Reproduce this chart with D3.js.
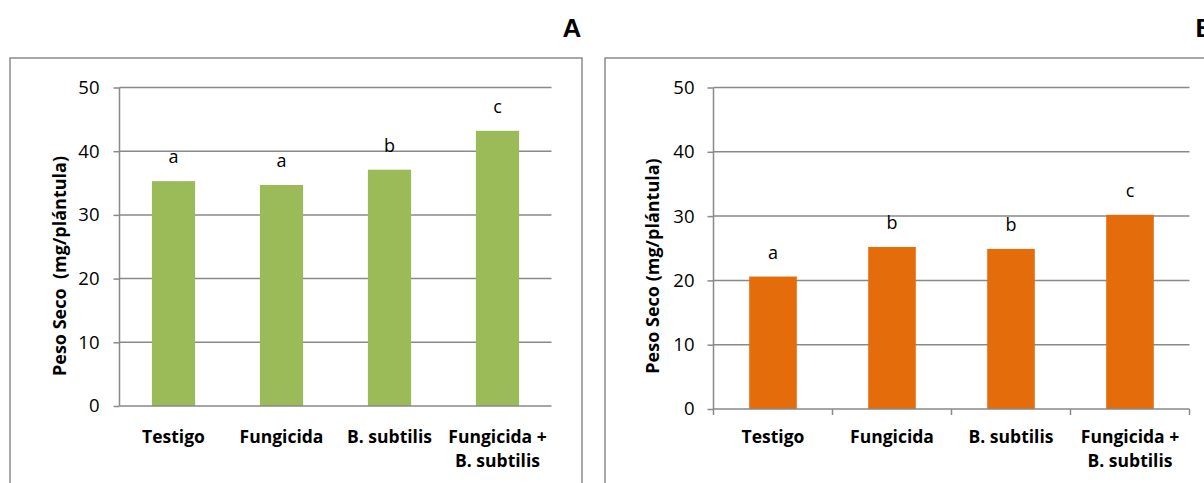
<!DOCTYPE html>
<html>
<head>
<meta charset="utf-8">
<script src="https://cdn.jsdelivr.net/npm/d3@7"></script>
<style>
  body { margin: 0; background: #fff; }
  svg { display: block; font-family: "Open Sans", "DejaVu Sans", sans-serif; }
</style>
</head>
<body>
<div id="chart"></div>
<script>
// data
var categories = ["Testigo", "Fungicida", "B. subtilis", "Fungicida + B. subtilis"];
var catLines = [["Testigo"], ["Fungicida"], ["B. subtilis"], ["Fungicida +", "B. subtilis"]];
var valuesA = [35.3, 34.7, 37.1, 43.2];
var lettersA = ["a", "a", "b", "c"];
var valuesB = [20.6, 25.2, 24.9, 30.2];
var lettersB = ["a", "b", "b", "c"];
var yTicks = [0, 10, 20, 30, 40, 50];

var width = 1204, height = 483;
var gridColor = "#898989";

var svg = d3.select("#chart").append("svg")
  .attr("width", width)
  .attr("height", height);

function drawPanel(cfg) {
  // outer frame of the chart object
  svg.append("rect")
    .attr("x", cfg.frame[0]).attr("y", cfg.frame[1])
    .attr("width", cfg.frame[2]).attr("height", cfg.frame[3])
    .attr("fill", "none")
    .attr("stroke", "#8c8c8c")
    .attr("stroke-width", 1.5);

  svg.append("text")
    .attr("x", cfg.tagX).attr("y", 37)
    .attr("text-anchor", "middle")
    .style("font-size", "26px")
    .style("font-weight", "bold")
    .style("font-family", "'Liberation Sans', Arial, sans-serif")
    .text(cfg.tag);

  var x = d3.scaleBand()
    .domain(categories)
    .range([cfg.x0, cfg.x1])
    .paddingInner(0.6)
    .paddingOuter(0.3);

  var y = d3.scaleLinear()
    .domain([0, 50])
    .range([cfg.y0, cfg.y1]);

  var g = svg.append("g");

  // gridlines
  g.selectAll("line.grid")
    .data(yTicks.filter(function(d) { return d > 0; }))
    .enter().append("line")
    .attr("class", "grid")
    .attr("x1", cfg.x0).attr("x2", cfg.x1)
    .attr("y1", function(d) { return y(d); })
    .attr("y2", function(d) { return y(d); })
    .attr("stroke", gridColor)
    .attr("stroke-width", 1.5);

  // bars
  g.selectAll("rect.bar")
    .data(cfg.values)
    .enter().append("rect")
    .attr("class", "bar")
    .attr("x", function(d, i) { return x(categories[i]); })
    .attr("width", x.bandwidth())
    .attr("y", function(d) { return y(d); })
    .attr("height", function(d) { return y(0) - y(d); })
    .attr("fill", cfg.color);

  // significance letters
  g.selectAll("text.letter")
    .data(cfg.values)
    .enter().append("text")
    .attr("class", "letter")
    .attr("x", function(d, i) { return x(categories[i]) + x.bandwidth() / 2; })
    .attr("y", function(d) { return y(d) - 18; })
    .attr("text-anchor", "middle")
    .style("font-size", "18px")
    .text(function(d, i) { return cfg.letters[i]; });

  // y axis
  var yAxis = g.append("g")
    .attr("transform", "translate(" + cfg.x0 + ",0)")
    .call(d3.axisLeft(y).tickValues(yTicks).tickSize(6).tickPadding(cfg.tickPad));
  yAxis.select(".domain").attr("stroke", gridColor).attr("stroke-width", 1.5)
    .attr("d", "M0," + y(50) + "V" + y(0));
  yAxis.selectAll(".tick line").attr("stroke", gridColor).attr("stroke-width", 1.5);
  yAxis.selectAll(".tick text")
    .style("font-size", "18.5px")
    .style("font-family", "'Open Sans', sans-serif")
    .attr("fill", "#000");

  // x axis
  var xAxis = g.append("g")
    .attr("transform", "translate(0," + y(0) + ")");
  xAxis.append("line")
    .attr("x1", cfg.x0).attr("x2", cfg.x1)
    .attr("stroke", gridColor).attr("stroke-width", 1.5);
  if (cfg.xTicks) {
    var step = x.step();
    xAxis.selectAll("line.xt")
      .data(d3.range(categories.length + 1))
      .enter().append("line")
      .attr("class", "xt")
      .attr("x1", function(d) { return cfg.x0 + d * step; })
      .attr("x2", function(d) { return cfg.x0 + d * step; })
      .attr("y1", 0).attr("y2", 6)
      .attr("stroke", gridColor).attr("stroke-width", 1.5);
  }
  var labels = xAxis.selectAll("text.cat")
    .data(categories)
    .enter().append("text")
    .attr("class", "cat")
    .attr("text-anchor", "middle")
    .attr("transform", function(d) { return "translate(" + (x(d) + x.bandwidth() / 2) + ",0)"; })
    .style("font-size", "17.5px")
    .style("font-weight", "bold");
  labels.selectAll("tspan")
    .data(function(d, i) { return catLines[i]; })
    .enter().append("tspan")
    .attr("x", 0)
    .attr("y", function(d, j) { return cfg.labelY + j * 24; })
    .text(function(d) { return d; });

  // y title
  svg.append("text")
    .attr("transform", "translate(" + cfg.titleX + ",266) rotate(-90)")
    .attr("text-anchor", "middle")
    .style("font-size", "18px")
    .style("font-weight", "bold")
    .style("white-space", "pre")
    .attr("xml:space", "preserve")
    .text(cfg.title);
}

drawPanel({
  tag: "A", tagX: 572,
  frame: [10, 58, 572, 460],
  x0: 119.5, x1: 551.5, y0: 406, y1: 87.5,
  values: valuesA, letters: lettersA,
  color: "#9bbb59",
  xTicks: false,
  tickPad: 14,
  labelY: 443 - 406,
  titleX: 66,
  title: "Peso Seco  (mg/pl\u00e1ntula)"
});

drawPanel({
  tag: "B", tagX: 1205,
  frame: [605, 58, 640, 460],
  x0: 713.5, x1: 1189.5, y0: 409, y1: 87.5,
  values: valuesB, letters: lettersB,
  color: "#e46c0a",
  xTicks: true,
  tickPad: 13,
  labelY: 443 - 409,
  titleX: 659,
  title: "Peso Seco (mg/pl\u00e1ntula)"
});
</script>
</body>
</html>
